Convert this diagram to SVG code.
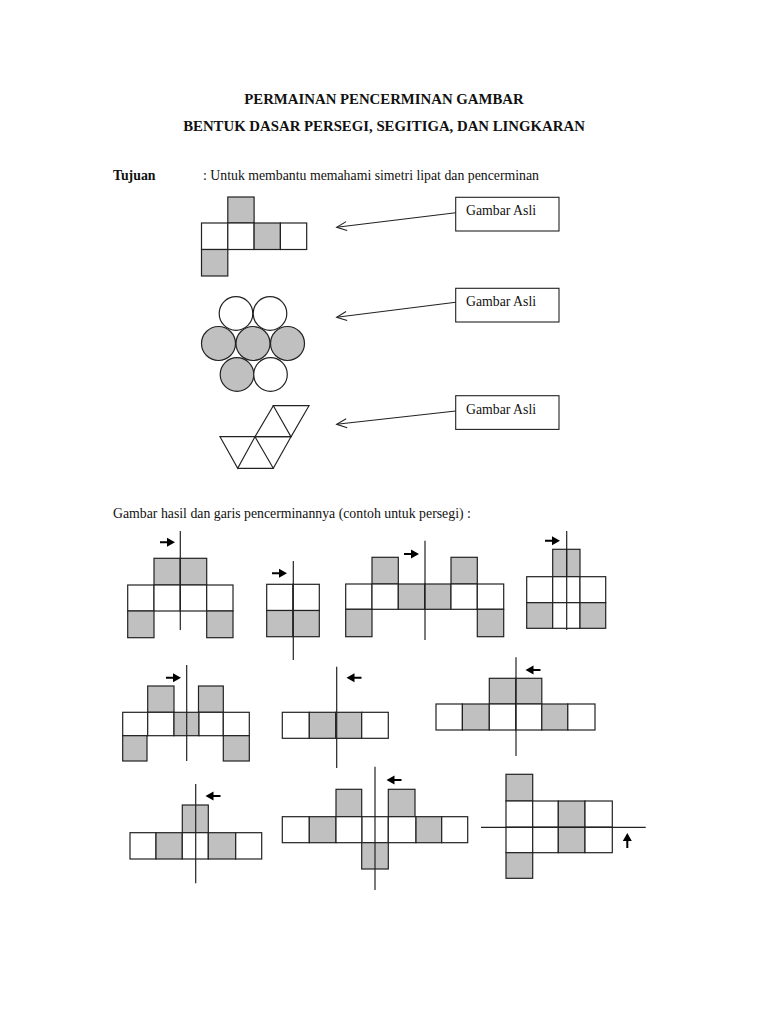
<svg xmlns="http://www.w3.org/2000/svg" width="768" height="1024" viewBox="0 0 768 1024">
<style>
text{font-family:"Liberation Serif","Times New Roman",serif;fill:#111}
.t{font-size:14.8px;font-weight:bold}
.tb{font-size:13.8px;font-weight:bold}
.b{font-size:13.8px}
.w{fill:#fff;stroke:#222;stroke-width:1.2}
.g{fill:#c0c0c0;stroke:#222;stroke-width:1.2}
.ln{stroke:#222;stroke-width:1.2;fill:none}
.ah{fill:#000}
</style>
<defs>
<marker id="open" markerWidth="14" markerHeight="14" refX="11" refY="7" orient="auto" markerUnits="userSpaceOnUse">
<path d="M1,2.5 L11,7 L1,11.5" fill="none" stroke="#222" stroke-width="1.1"/>
</marker>
<path id="ar" d="M-7,-1 L0,-1 L0,-4.5 L8,0 L0,4.5 L0,1 L-7,1 Z" class="ah"/>
</defs>
<rect width="768" height="1024" fill="#fff"/>

<text class="t" x="384" y="104" text-anchor="middle">PERMAINAN PENCERMINAN GAMBAR</text>
<text class="t" x="384" y="131" text-anchor="middle">BENTUK DASAR PERSEGI, SEGITIGA, DAN LINGKARAN</text>
<text class="tb" x="113" y="180">Tujuan</text>
<text class="b" x="203" y="180">: Untuk membantu memahami simetri lipat dan pencerminan</text>
<text class="b" x="113" y="518">Gambar hasil dan garis pencerminannya (contoh untuk persegi) :</text>

<g id="orig-squares">
<rect class="g" x="227.8" y="197" width="26.3" height="26"/>
<rect class="w" x="201.5" y="223" width="26.3" height="26.5"/>
<rect class="w" x="227.8" y="223" width="26.3" height="26.5"/>
<rect class="g" x="254.1" y="223" width="26.3" height="26.5"/>
<rect class="w" x="280.4" y="223" width="26.3" height="26.5"/>
<rect class="g" x="201.5" y="249.5" width="26.3" height="26.5"/>
</g>

<g id="orig-circles">
<circle class="w" cx="236" cy="313.5" r="16.8"/>
<circle class="w" cx="270" cy="313.5" r="16.8"/>
<circle class="g" cx="218.5" cy="343.5" r="17"/>
<circle class="g" cx="253" cy="343.5" r="17"/>
<circle class="g" cx="287.5" cy="343.5" r="17"/>
<circle class="g" cx="237" cy="374.5" r="16.8"/>
<circle class="w" cx="270.5" cy="374.5" r="16.8"/>
</g>

<g id="orig-triangles" class="ln">
<path d="M273.3,405.7 L309,405.7 L291,436.7 Z"/>
<path d="M273.3,405.7 L255,436.7 L291,436.7"/>
<path d="M220,436.7 L255,436.7 L237.7,468.3 Z"/>
<path d="M255,436.7 L273.3,468.3 L237.7,468.3"/>
<path d="M255,436.7 L291,436.7 L273.3,468.3"/>
</g>

<g id="label1"><rect x="455.7" y="197.3" width="103.3" height="33.7" fill="#fff" stroke="#222" stroke-width="1.1"/><text class="b" x="466" y="215">Gambar Asli</text></g>
<g id="label2"><rect x="455.7" y="288.3" width="103.3" height="33.7" fill="#fff" stroke="#222" stroke-width="1.1"/><text class="b" x="466" y="306">Gambar Asli</text></g>
<g id="label3"><rect x="455.7" y="395.7" width="103.3" height="33.7" fill="#fff" stroke="#222" stroke-width="1.1"/><text class="b" x="466" y="414">Gambar Asli</text></g>

<g id="connectors" stroke="#222" stroke-width="1.1" fill="none">
<line x1="455.7" y1="212.7" x2="336.7" y2="227.3" marker-end="url(#open)"/>
<line x1="455.7" y1="302.3" x2="336.7" y2="317.3" marker-end="url(#open)"/>
<line x1="455.7" y1="411" x2="336.7" y2="424.3" marker-end="url(#open)"/>
</g>

<g id="fig1">
<rect class="g" x="154" y="558.3" width="26.3" height="26.7"/>
<rect class="g" x="180.3" y="558.3" width="26.4" height="26.7"/>
<rect class="w" x="127.7" y="585" width="26.3" height="26"/>
<rect class="w" x="154" y="585" width="26.3" height="26"/>
<rect class="w" x="180.3" y="585" width="26.4" height="26"/>
<rect class="w" x="206.7" y="585" width="26.3" height="26"/>
<rect class="g" x="127.7" y="611" width="26.3" height="26.7"/>
<rect class="g" x="206.7" y="611" width="26.3" height="26.7"/>
<line class="ln" x1="180.3" y1="531" x2="180.3" y2="630"/>
<use href="#ar" x="167" y="542.3"/>
</g>

<g id="fig2">
<rect class="w" x="266.7" y="584.3" width="26.3" height="26.2"/>
<rect class="w" x="293" y="584.3" width="26.3" height="26.2"/>
<rect class="g" x="266.7" y="610.5" width="26.3" height="26.2"/>
<rect class="g" x="293" y="610.5" width="26.3" height="26.2"/>
<line class="ln" x1="293.3" y1="561" x2="293.3" y2="660"/>
<use href="#ar" x="279" y="573.3"/>
</g>

<g id="fig3">
<rect class="g" x="372" y="557.3" width="26.3" height="26.7"/>
<rect class="g" x="451" y="557.3" width="26.3" height="26.7"/>
<rect class="w" x="345.7" y="584" width="26.3" height="25.3"/>
<rect class="w" x="372" y="584" width="26.3" height="25.3"/>
<rect class="g" x="398.3" y="584" width="26.4" height="25.3"/>
<rect class="g" x="424.7" y="584" width="26.3" height="25.3"/>
<rect class="w" x="451" y="584" width="26.3" height="25.3"/>
<rect class="w" x="477.3" y="584" width="26.4" height="25.3"/>
<rect class="g" x="345.7" y="609.3" width="26.3" height="27.4"/>
<rect class="g" x="477.3" y="609.3" width="26.4" height="27.4"/>
<line class="ln" x1="425" y1="540.7" x2="425" y2="640"/>
<use href="#ar" x="411" y="554"/>
</g>

<g id="fig4">
<rect class="g" x="552.7" y="549.3" width="13.9" height="27.4"/>
<rect class="g" x="566.6" y="549.3" width="13.4" height="27.4"/>
<rect class="w" x="526.7" y="576.7" width="26" height="26"/>
<rect class="w" x="552.7" y="576.7" width="27.3" height="26"/>
<rect class="w" x="580" y="576.7" width="25.7" height="26"/>
<rect class="g" x="526.7" y="602.7" width="26" height="25.6"/>
<rect class="w" x="552.7" y="602.7" width="27.3" height="25.6"/>
<rect class="g" x="580" y="602.7" width="25.7" height="25.6"/>
<line class="ln" x1="566.7" y1="531" x2="566.7" y2="630"/>
<use href="#ar" x="552" y="540.7"/>
</g>

<g id="fig5">
<rect class="g" x="147.7" y="686" width="26.3" height="26.3"/>
<rect class="g" x="198.5" y="686" width="24.8" height="26.3"/>
<rect class="w" x="122.7" y="712.3" width="25" height="23.4"/>
<rect class="w" x="147.7" y="712.3" width="26.3" height="23.4"/>
<rect class="g" x="174" y="712.3" width="25" height="23.4"/>
<rect class="w" x="199" y="712.3" width="24.3" height="23.4"/>
<rect class="w" x="223.3" y="712.3" width="26" height="23.4"/>
<rect class="g" x="122.7" y="735.7" width="24.3" height="25.3"/>
<rect class="g" x="223.3" y="735.7" width="26" height="25.3"/>
<line class="ln" x1="186.7" y1="665" x2="186.7" y2="761"/>
<use href="#ar" x="173" y="677.7"/>
</g>

<g id="fig6">
<rect class="w" x="282.3" y="712.3" width="27" height="26"/>
<rect class="g" x="309.3" y="712.3" width="26.4" height="26"/>
<rect class="g" x="335.7" y="712.3" width="26" height="26"/>
<rect class="w" x="361.7" y="712.3" width="26.6" height="26"/>
<line class="ln" x1="336.7" y1="666.7" x2="336.7" y2="768"/>
<use href="#ar" transform="translate(354.5,677.7) rotate(180)"/>
</g>

<g id="fig7">
<rect class="g" x="489.3" y="678.3" width="26.5" height="25.7"/>
<rect class="g" x="515.8" y="678.3" width="26" height="25.7"/>
<rect class="w" x="436" y="704" width="26.4" height="26"/>
<rect class="g" x="462.4" y="704" width="26.9" height="26"/>
<rect class="w" x="489.3" y="704" width="26.5" height="26"/>
<rect class="w" x="515.8" y="704" width="26" height="26"/>
<rect class="g" x="541.8" y="704" width="26" height="26"/>
<rect class="w" x="567.8" y="704" width="27.2" height="26"/>
<line class="ln" x1="516" y1="657.3" x2="516" y2="756"/>
<use href="#ar" transform="translate(533.5,670) rotate(180)"/>
</g>

<g id="fig8">
<rect class="g" x="182.3" y="805" width="26" height="27.7"/>
<rect class="w" x="130" y="832.7" width="26" height="26.3"/>
<rect class="g" x="156" y="832.7" width="26.3" height="26.3"/>
<rect class="w" x="182.3" y="832.7" width="26" height="26.3"/>
<rect class="g" x="208.3" y="832.7" width="27.4" height="26.3"/>
<rect class="w" x="235.7" y="832.7" width="26" height="26.3"/>
<line class="ln" x1="195.7" y1="784" x2="195.7" y2="883.3"/>
<use href="#ar" transform="translate(213.5,796) rotate(180)"/>
</g>

<g id="fig9">
<rect class="g" x="336" y="789.3" width="25.7" height="27.4"/>
<rect class="g" x="388.3" y="789.3" width="26.7" height="27.4"/>
<rect class="w" x="282.3" y="816.7" width="27" height="26"/>
<rect class="g" x="309.3" y="816.7" width="26.7" height="26"/>
<rect class="w" x="336" y="816.7" width="26" height="26"/>
<rect class="w" x="362" y="816.7" width="26.3" height="26"/>
<rect class="w" x="388.3" y="816.7" width="27.7" height="26"/>
<rect class="g" x="416" y="816.7" width="25.7" height="26"/>
<rect class="w" x="441.7" y="816.7" width="26" height="26"/>
<rect class="g" x="361.7" y="842.7" width="26.6" height="26.3"/>
<line class="ln" x1="375" y1="766.7" x2="375" y2="890"/>
<use href="#ar" transform="translate(394.5,780) rotate(180)"/>
</g>

<g id="fig10">
<rect class="g" x="506" y="774.3" width="26.7" height="26.7"/>
<rect class="w" x="506" y="801" width="26.7" height="26.3"/>
<rect class="w" x="532.7" y="801" width="25.6" height="26.3"/>
<rect class="g" x="558.3" y="801" width="26.7" height="26.3"/>
<rect class="w" x="585" y="801" width="27.3" height="26.3"/>
<rect class="w" x="506" y="827.3" width="26.7" height="25.4"/>
<rect class="w" x="532.7" y="827.3" width="25.6" height="25.4"/>
<rect class="g" x="558.3" y="827.3" width="26.7" height="25.4"/>
<rect class="w" x="585" y="827.3" width="27.3" height="25.4"/>
<rect class="g" x="506" y="852.7" width="26.7" height="25.6"/>
<line class="ln" x1="481" y1="827.3" x2="645.7" y2="827.3"/>
<use href="#ar" transform="translate(627.3,841) rotate(-90)"/>
</g>
</svg>
